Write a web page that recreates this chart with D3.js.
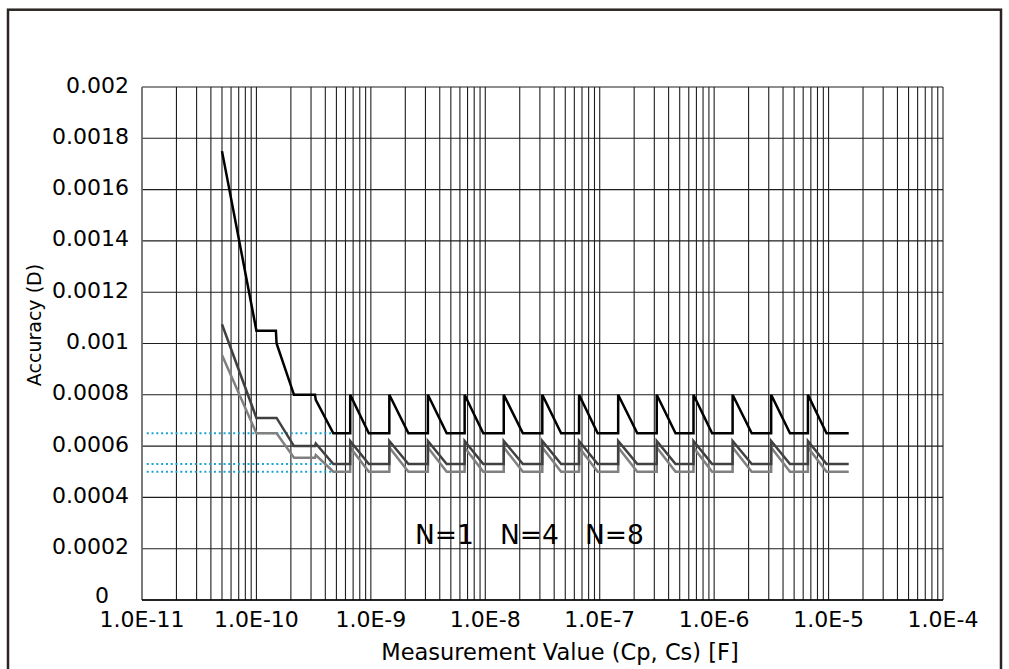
<!DOCTYPE html>
<html>
<head>
<meta charset="utf-8">
<script src="https://cdn.jsdelivr.net/npm/d3@7"></script>
<style>
  html, body { margin: 0; padding: 0; background: #fff; }
  svg { display: block; font-family: "DejaVu Sans", Verdana, sans-serif; }
</style>
</head>
<body>
<svg id="chart" width="1009" height="669"></svg>
<script>
// ---------- DATA ----------
const capValues = [
  5e-11, 1e-10, 1.48e-10, 1.5e-10, 2.13e-10, 3.25e-10, 3.3e-10, 4.7e-10,
  6.6e-10, 6.6e-10, 9.6e-10,
  1.45e-9, 1.45e-9, 2.13e-9,
  3.15e-9, 3.15e-9, 4.6e-9,
  6.6e-9, 6.6e-9, 9.6e-9,
  1.45e-8, 1.45e-8, 2.13e-8,
  3.15e-8, 3.15e-8, 4.6e-8,
  6.6e-8, 6.6e-8, 9.6e-8,
  1.45e-7, 1.45e-7, 2.13e-7,
  3.15e-7, 3.15e-7, 4.6e-7,
  6.6e-7, 6.6e-7, 9.6e-7,
  1.45e-6, 1.45e-6, 2.13e-6,
  3.15e-6, 3.15e-6, 4.6e-6,
  6.6e-6, 6.6e-6, 9.6e-6,
  1.5e-5
];
const accuracyN1 = [
  0.00175, 0.00105, 0.00105, 0.001, 0.0008, 0.0008, 0.00078, 0.00065,
  0.00065, 0.0008, 0.00065,
  0.00065, 0.0008, 0.00065,
  0.00065, 0.0008, 0.00065,
  0.00065, 0.0008, 0.00065,
  0.00065, 0.0008, 0.00065,
  0.00065, 0.0008, 0.00065,
  0.00065, 0.0008, 0.00065,
  0.00065, 0.0008, 0.00065,
  0.00065, 0.0008, 0.00065,
  0.00065, 0.0008, 0.00065,
  0.00065, 0.0008, 0.00065,
  0.00065, 0.0008, 0.00065,
  0.00065, 0.0008, 0.00065,
  0.00065
];
const accuracyN4 = [
  0.001075, 0.00071, 0.00071, 0.00071, 0.0006, 0.0006, 0.00061, 0.00053,
  0.00053, 0.00062, 0.00053,
  0.00053, 0.00062, 0.00053,
  0.00053, 0.00062, 0.00053,
  0.00053, 0.00062, 0.00053,
  0.00053, 0.00062, 0.00053,
  0.00053, 0.00062, 0.00053,
  0.00053, 0.00062, 0.00053,
  0.00053, 0.00062, 0.00053,
  0.00053, 0.00062, 0.00053,
  0.00053, 0.00062, 0.00053,
  0.00053, 0.00062, 0.00053,
  0.00053, 0.00062, 0.00053,
  0.00053, 0.00062, 0.00053,
  0.00053
];
const accuracyN8 = [
  0.000955, 0.00065, 0.00065, 0.00065, 0.000555, 0.000555, 0.000565, 0.0005,
  0.0005, 0.000595, 0.0005,
  0.0005, 0.000595, 0.0005,
  0.0005, 0.000595, 0.0005,
  0.0005, 0.000595, 0.0005,
  0.0005, 0.000595, 0.0005,
  0.0005, 0.000595, 0.0005,
  0.0005, 0.000595, 0.0005,
  0.0005, 0.000595, 0.0005,
  0.0005, 0.000595, 0.0005,
  0.0005, 0.000595, 0.0005,
  0.0005, 0.000595, 0.0005,
  0.0005, 0.000595, 0.0005,
  0.0005, 0.000595, 0.0005,
  0.0005
];
const seriesNames = ["N=1", "N=4", "N=8"];
const refLevels = [0.00065, 0.00053, 0.0005];
const refStart = 1.1e-11;
const refEnd = 4.7e-10;
const xTickValues = [1e-11, 1e-10, 1e-9, 1e-8, 1e-7, 1e-6, 1e-5, 1e-4];
const xTickLabels = ["1.0E-11", "1.0E-10", "1.0E-9", "1.0E-8", "1.0E-7", "1.0E-6", "1.0E-5", "1.0E-4"];
const yTickValues = [0, 0.0002, 0.0004, 0.0006, 0.0008, 0.001, 0.0012, 0.0014, 0.0016, 0.0018, 0.002];
const yTickLabels = ["0", "0.0002", "0.0004", "0.0006", "0.0008", "0.001", "0.0012", "0.0014", "0.0016", "0.0018", "0.002"];
const xTitle = "Measurement Value (Cp, Cs) [F]";
const yTitle = "Accuracy (D)";

// ---------- LAYOUT ----------
const L = 142, R = 943, T = 87, B = 600;
const svg = d3.select("#chart");
svg.append("rect").attr("width", 1009).attr("height", 669).attr("fill", "#fff");
svg.append("rect").attr("x", 8).attr("y", 9.7).attr("width", 993).attr("height", 700)
  .attr("fill", "none").attr("stroke", "#2a2522").attr("stroke-width", 2.5);

const x = d3.scaleLog().domain([1e-11, 1e-4]).range([L, R]);
const y = d3.scaleLinear().domain([0, 0.002]).range([B, T]);

// gridlines
const grid = svg.append("g");
grid.selectAll("line.v").data(x.ticks()).join("line")
  .attr("x1", d => x(d)).attr("x2", d => x(d)).attr("y1", T).attr("y2", B)
  .attr("stroke", "#1e1e1e").attr("stroke-width", 1.1);
grid.selectAll("line.h").data(yTickValues).join("line")
  .attr("x1", L).attr("x2", R).attr("y1", d => y(d)).attr("y2", d => y(d))
  .attr("stroke", "#1e1e1e").attr("stroke-width", 1.1);
// frame
grid.append("line").attr("x1", L).attr("x2", L).attr("y1", T).attr("y2", B).attr("stroke", "#777").attr("stroke-width", 1.5);
grid.append("line").attr("x1", L).attr("x2", R).attr("y1", B).attr("y2", B).attr("stroke", "#000").attr("stroke-width", 1.3);

// reference dotted lines
svg.append("g").selectAll("line").data(refLevels).join("line")
  .attr("x1", x(refStart)).attr("x2", x(refEnd))
  .attr("y1", d => y(d)).attr("y2", d => y(d))
  .attr("stroke", "#1aa3cc").attr("stroke-width", 2).attr("stroke-dasharray", "2,2.8");

// series lines
const lineGen = d3.line().x(d => x(d[0])).y(d => y(d[1]));
const seriesData = [accuracyN8, accuracyN4, accuracyN1];
const seriesColors = ["#808080", "#404040", "#000000"];
svg.append("g").selectAll("path").data(seriesData).join("path")
  .attr("d", vals => lineGen(capValues.map((c, i) => [c, vals[i]])))
  .attr("fill", "none")
  .attr("stroke", (d, i) => seriesColors[i])
  .attr("stroke-width", 2.5)
  .attr("stroke-linejoin", "miter");

// y tick labels
svg.append("g").selectAll("text").data(yTickValues).join("text")
  .attr("x", d => d === 0 ? L - 33 : L - 13)
  .attr("y", d => d === 0 ? y(d) - 5 : y(d) - 2)
  .attr("text-anchor", "end")
  .attr("dominant-baseline", "central")
  .attr("font-size", 22)
  .text((d, i) => yTickLabels[i]);

// x tick labels
svg.append("g").selectAll("text").data(xTickValues).join("text")
  .attr("x", d => x(d))
  .attr("y", 627)
  .attr("text-anchor", "middle")
  .attr("font-size", 22)
  .text((d, i) => xTickLabels[i]);

// axis titles
svg.append("text").attr("x", 560).attr("y", 660).attr("text-anchor", "middle")
  .attr("font-size", 22.5).text(xTitle);
svg.append("text").attr("transform", "translate(34,325) rotate(-90)")
  .attr("text-anchor", "middle").attr("dominant-baseline", "central")
  .attr("font-size", 19).text(yTitle);

// legend labels
const legendX = [415, 500, 585];
svg.append("g").selectAll("text").data(seriesNames).join("text")
  .attr("x", (d, i) => legendX[i]).attr("y", 544)
  .attr("font-size", 26.5).text(d => d);
</script>
</body>
</html>
